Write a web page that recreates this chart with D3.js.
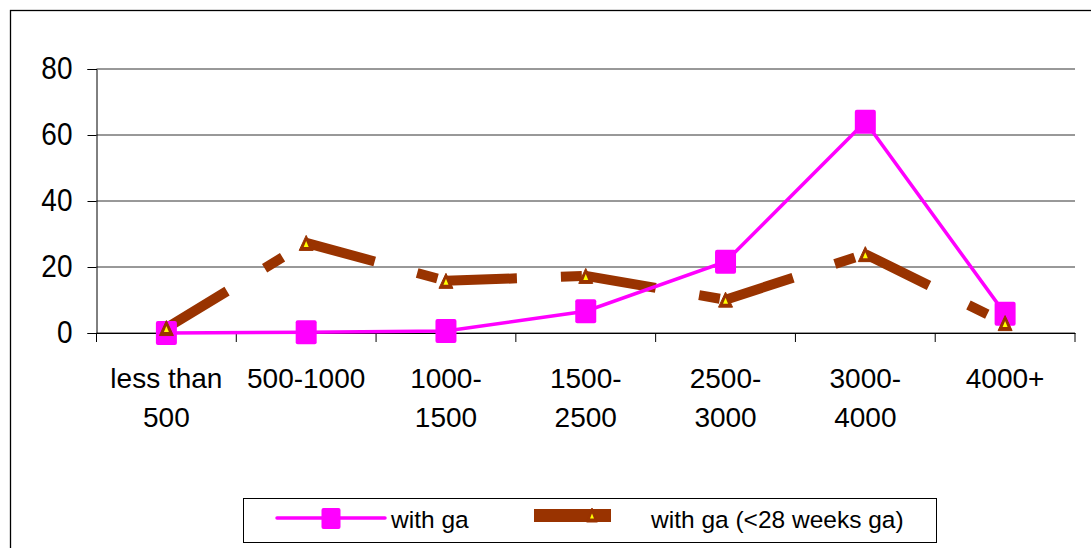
<!DOCTYPE html>
<html lang="en">
<head>
  <meta charset="utf-8">
  <title>Birth weight groups</title>
  <script src="https://d3js.org/d3.v7.min.js"></script>
  <style type="text/css">
    body { margin: 0; background: #fff; }
    text { font-family: "Liberation Sans", Arial, sans-serif; fill: #000; }
  </style>
</head>
<body>
  <script type="text/javascript">

const categories = ["less than 500", "500-1000", "1000-1500", "1500-2500", "2500-3000", "3000-4000", "4000+"];
const categoryLines = [["less than", "500"], ["500-1000"], ["1000-", "1500"], ["1500-", "2500"], ["2500-", "3000"], ["3000-", "4000"], ["4000+"]];
const withGa = [0, 0.2, 0.6, 6.6, 21.6, 64, 5.8];
const withGa28 = [1.5, 27.3, 15.8, 17.3, 10.1, 23.9, 3.0];
const yTicks = [0, 20, 40, 60, 80];
const seriesNames = ["with ga", "with ga (<28 weeks ga)"];

const svgWidth = 1091;
const svgHeight = 548;
const pink = "#ff00ff";
const brown = "#993300";

const svg = d3.select("body")
    .append("svg")
    .attr("width", svgWidth)
    .attr("height", svgHeight);

// outer chart frame (runs off the right and bottom edges)
svg.append("rect")
    .attr("x", 10.5)
    .attr("y", 10.5)
    .attr("width", 1100)
    .attr("height", 600)
    .attr("fill", "none")
    .attr("stroke", "#000")
    .attr("stroke-width", 1.3);

const xScale = d3.scaleBand()
    .domain(categories)
    .range([96.5, 1075]);

const yScale = d3.scaleLinear()
    .domain([0, 80])
    .range([333, 69]);

const cx = d => xScale(d) + xScale.bandwidth() / 2;

// gridlines
svg.append("g")
    .selectAll("line")
    .data(yTicks)
    .enter()
    .append("line")
    .attr("x1", 96.5)
    .attr("x2", 1075)
    .attr("y1", d => yScale(d))
    .attr("y2", d => yScale(d))
    .attr("stroke", "#333")
    .attr("stroke-width", 1);

// y axis
const yAxis = d3.axisLeft(yScale)
    .tickValues(yTicks)
    .tickSize(9)
    .tickPadding(15);
const gy = svg.append("g")
    .attr("transform", "translate(96.5, 0)")
    .call(yAxis);
gy.select(".domain").attr("stroke", "#000");
gy.selectAll(".tick line").attr("stroke", "#000");
gy.selectAll(".tick text")
    .style("font-family", "Liberation Sans, Arial, sans-serif")
    .style("font-size", "28px")
    .attr("transform", "scale(1, 1.1)")
    .attr("fill", "#000");

// x axis
const xAxis = d3.axisBottom(xScale)
    .tickSize(0)
    .tickFormat("");
const gx = svg.append("g")
    .attr("transform", "translate(0, 333)")
    .call(xAxis);
gx.select(".domain").attr("stroke", "#000");

// category boundary ticks
svg.append("g")
    .selectAll("line")
    .data(categories.concat(["end"]))
    .enter()
    .append("line")
    .attr("x1", (d, i) => i < categories.length ? xScale(d) : 1075)
    .attr("x2", (d, i) => i < categories.length ? xScale(d) : 1075)
    .attr("y1", 333)
    .attr("y2", 342)
    .attr("stroke", "#000");

// category labels
const labels = svg.append("g")
    .selectAll("text")
    .data(categories)
    .enter()
    .append("text")
    .attr("text-anchor", "middle")
    .style("font-size", "28px");
labels.each(function(d, i) {
  d3.select(this).selectAll("tspan")
      .data(categoryLines[i])
      .enter()
      .append("tspan")
      .attr("x", cx(d))
      .attr("y", (t, j) => 388 + j * 39)
      .text(t => t);
});

// brown dashed series, each segment restarts the dash pattern
const pts28 = categories.map((c, i) => [cx(c), yScale(withGa28[i])]);
svg.append("g")
    .selectAll("path")
    .data(d3.pairs(pts28))
    .enter()
    .append("path")
    .attr("d", d => d3.line()(d))
    .attr("fill", "none")
    .attr("stroke", brown)
    .attr("stroke-width", 10)
    .attr("stroke-dasharray", "71 44 21 300");

// pink series
const ptsGa = categories.map((c, i) => [cx(c), yScale(withGa[i])]);
svg.append("path")
    .attr("d", d3.line()(ptsGa))
    .attr("fill", "none")
    .attr("stroke", pink)
    .attr("stroke-width", 3.5);

svg.append("g")
    .selectAll("rect")
    .data(ptsGa)
    .enter()
    .append("rect")
    .attr("x", d => d[0] - 10.5)
    .attr("y", d => d[1] - 12)
    .attr("width", 21)
    .attr("height", 24)
    .attr("rx", 2)
    .attr("fill", pink);

function triangle(g, x, y, w, h, iw, ih) {
  g.append("path")
      .attr("d", `M${x},${y - h / 2}L${x + w / 2},${y + h / 2}L${x - w / 2},${y + h / 2}Z`)
      .attr("fill", brown)
      .attr("stroke", brown)
      .attr("stroke-linejoin", "round")
      .attr("stroke-width", 1);
  const by = y + h / 2 - 3.5;
  g.append("path")
      .attr("d", `M${x},${by - ih}L${x + iw / 2},${by}L${x - iw / 2},${by}Z`)
      .attr("fill", "#ffff00");
}

const markers28 = svg.append("g");
pts28.forEach(p => triangle(markers28, p[0], p[1], 14, 15, 5, 6));

// legend
const legend = svg.append("g");
legend.append("rect")
    .attr("x", 243.5)
    .attr("y", 498.5)
    .attr("width", 693)
    .attr("height", 44)
    .attr("fill", "#fff")
    .attr("stroke", "#000")
    .attr("stroke-width", 1);

legend.append("line")
    .attr("x1", 277)
    .attr("x2", 385)
    .attr("y1", 518)
    .attr("y2", 518)
    .attr("stroke", pink)
    .attr("stroke-width", 3.5)
    .attr("stroke-linecap", "round");
legend.append("rect")
    .attr("x", 321.5)
    .attr("y", 508)
    .attr("width", 19)
    .attr("height", 21)
    .attr("rx", 2)
    .attr("fill", pink);

legend.append("rect")
    .attr("x", 534)
    .attr("y", 509)
    .attr("width", 77)
    .attr("height", 13)
    .attr("fill", brown);
triangle(legend, 592, 515, 11, 14, 4, 5);

legend.selectAll("text.legend-label")
    .data(seriesNames)
    .enter()
    .append("text")
    .attr("class", "legend-label")
    .attr("x", (d, i) => i === 0 ? 391 : 651)
    .attr("y", 528)
    .style("font-size", "24.5px")
    .text(d => d);

  </script>
</body>
</html>
